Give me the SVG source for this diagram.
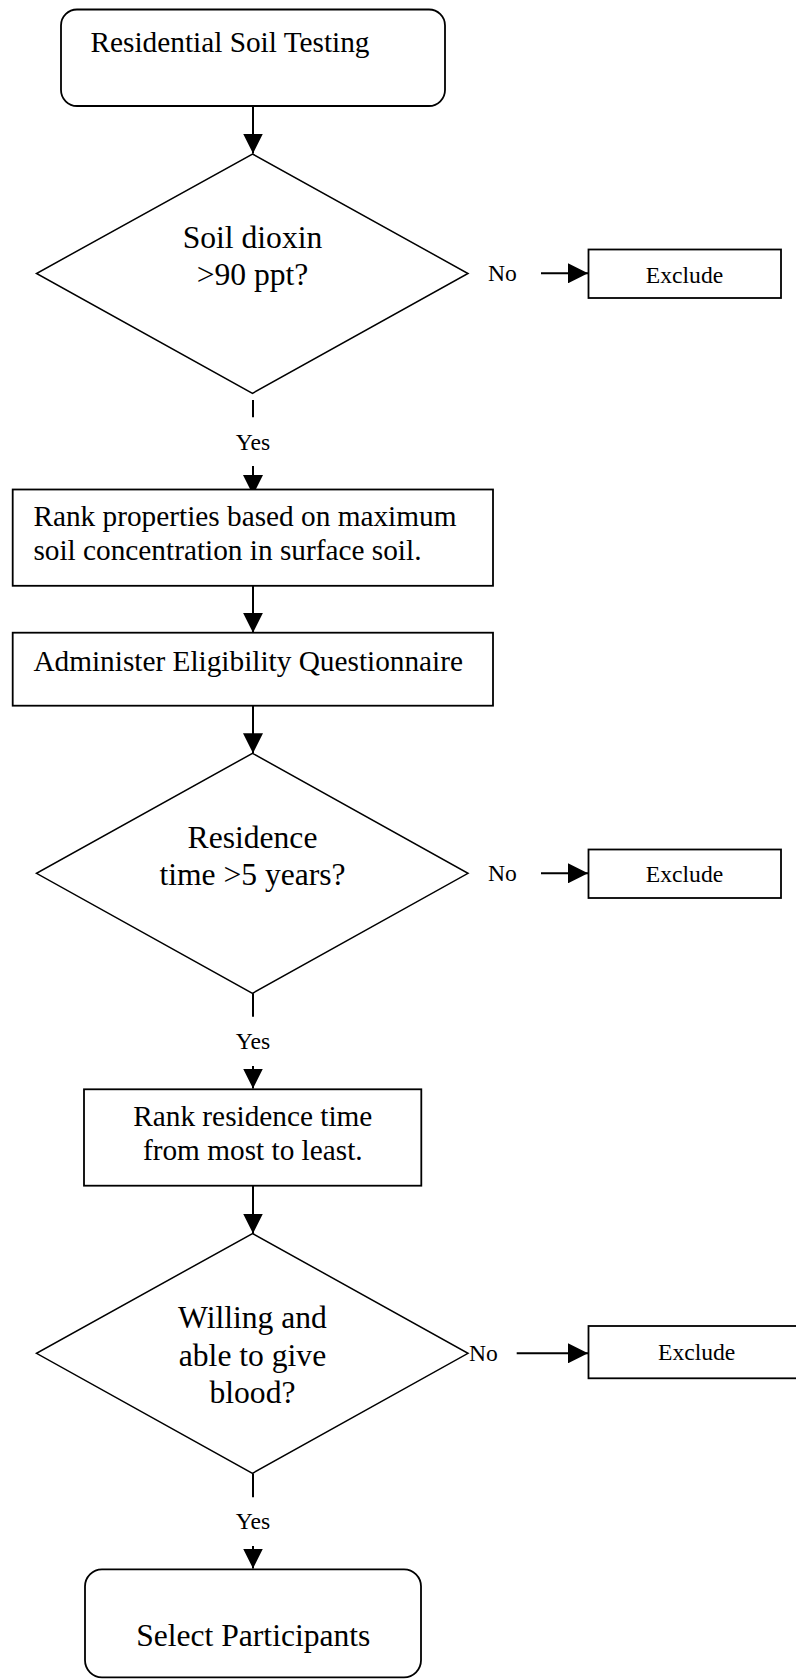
<svg xmlns="http://www.w3.org/2000/svg" width="796" height="1679" viewBox="0 0 796 1679">
<style>
.bx{fill:#fff;stroke:#000;stroke-width:1.8}
.dm{fill:#fff;stroke:#000;stroke-width:1.5}
.ln{fill:none;stroke:#000;stroke-width:2}
text{font-family:"Liberation Serif","Times New Roman",serif;fill:#000}
.t{font-size:29.3px}
.d{font-size:31.6px;text-anchor:middle}
.s{font-size:23.6px}
.c{text-anchor:middle}
</style>
<defs>
<marker id="arr" viewBox="0 0 20 20" refX="20" refY="10" markerWidth="20" markerHeight="20" markerUnits="userSpaceOnUse" orient="auto">
<path d="M0,0 L20,10 L0,20 z" fill="#000"/>
</marker>
</defs>
<rect width="796" height="1679" fill="#fff"/>
<g id="connectors">
<line class="ln" x1="253" y1="106" x2="253" y2="153.5" marker-end="url(#arr)"/>
<line class="ln" x1="253" y1="400" x2="253" y2="417.3"/>
<line class="ln" x1="253" y1="466" x2="253" y2="495" marker-end="url(#arr)"/>
<line class="ln" x1="253" y1="586" x2="253" y2="632.7" marker-end="url(#arr)"/>
<line class="ln" x1="253" y1="706" x2="253" y2="753.3" marker-end="url(#arr)"/>
<line class="ln" x1="253" y1="993.3" x2="253" y2="1016.7"/>
<line class="ln" x1="253" y1="1066" x2="253" y2="1088.5" marker-end="url(#arr)"/>
<line class="ln" x1="253" y1="1186" x2="253" y2="1233.5" marker-end="url(#arr)"/>
<line class="ln" x1="253" y1="1473.5" x2="253" y2="1497.3"/>
<line class="ln" x1="253" y1="1546" x2="253" y2="1568.5" marker-end="url(#arr)"/>
<line class="ln" x1="541" y1="273.3" x2="588" y2="273.3" marker-end="url(#arr)"/>
<line class="ln" x1="541" y1="873.3" x2="588" y2="873.3" marker-end="url(#arr)"/>
<line class="ln" x1="516.7" y1="1353.3" x2="588" y2="1353.3" marker-end="url(#arr)"/>
<text class="s c" x="253" y="449.5">Yes</text>
<text class="s c" x="253" y="1048.5">Yes</text>
<text class="s c" x="253" y="1529.3">Yes</text>
<text class="s" x="488" y="280.7">No</text>
<text class="s" x="488" y="880.7">No</text>
<text class="s" x="469" y="1360.7">No</text>
</g>
<g id="start">
<rect class="bx" x="61" y="9.5" width="384" height="96.5" rx="16" ry="16"/>
<text class="t" x="90.5" y="52">Residential Soil Testing</text>
</g>
<g id="dec1">
<polygon class="dm" points="252.5,154 468,273.5 252.5,393.3 36.5,273.5"/>
<text class="d" x="252.5" y="248.3">Soil dioxin</text>
<text class="d" x="252.5" y="285">&gt;90 ppt?</text>
</g>
<g id="excl1">
<rect class="bx" x="588.5" y="249.5" width="192.5" height="48.5"/>
<text class="s c" x="684.5" y="282.7">Exclude</text>
</g>
<g id="rank1">
<rect class="bx" x="12.7" y="489.5" width="480.3" height="96.3"/>
<text class="t" x="33.4" y="526">Rank properties based on maximum</text>
<text class="t" x="33.4" y="560.3">soil concentration in surface soil.</text>
</g>
<g id="admin">
<rect class="bx" x="12.7" y="632.7" width="480.3" height="73"/>
<text class="t" x="33.4" y="670.5">Administer Eligibility Questionnaire</text>
</g>
<g id="dec2">
<polygon class="dm" points="252.5,753.3 468,873.3 252.5,993.3 36.5,873.3"/>
<text class="d" x="252.5" y="848.3">Residence</text>
<text class="d" x="252.5" y="885">time &gt;5 years?</text>
</g>
<g id="excl2">
<rect class="bx" x="588.5" y="849.5" width="192.5" height="48.5"/>
<text class="s c" x="684.5" y="882.3">Exclude</text>
</g>
<g id="rank2">
<rect class="bx" x="84" y="1089.3" width="337.3" height="96.4"/>
<text class="t c" x="252.8" y="1126">Rank residence time</text>
<text class="t c" x="252.8" y="1160">from most to least.</text>
</g>
<g id="dec3">
<polygon class="dm" points="252.5,1233.5 468,1353.3 252.5,1473.3 36.5,1353.3"/>
<text class="d" x="252.5" y="1328.3">Willing and</text>
<text class="d" x="252.5" y="1365.7">able to give</text>
<text class="d" x="252.5" y="1402.7">blood?</text>
</g>
<g id="excl3">
<rect class="bx" x="588.5" y="1326" width="218" height="52.3"/>
<text class="s c" x="696.7" y="1360">Exclude</text>
</g>
<g id="end">
<rect class="bx" x="85" y="1569.3" width="336" height="108" rx="17" ry="17"/>
<text class="d" x="253.3" y="1646">Select Participants</text>
</g>
</svg>
